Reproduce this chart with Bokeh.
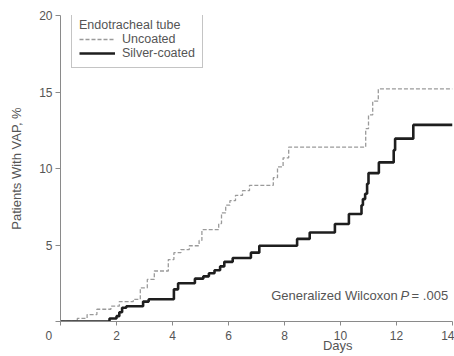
import math
from bokeh.plotting import figure
from bokeh.models import Range1d, Label, Legend, LegendItem, FixedTicker
from bokeh.embed import file_html
from bokeh.resources import INLINE

# Data: step curves, value changes at each time (mode="after")
uncoated_days = [0, 0.6, 0.95, 1.3, 1.8, 2.1, 2.6, 2.85, 3.1, 3.35, 3.85, 4.05, 4.3, 4.6,
                 4.95, 5.05, 5.65, 5.75, 5.9, 6.05, 6.25, 6.5, 6.75, 7.6, 7.75, 7.95, 8.15,
                 10.9, 11.0, 11.15, 11.35, 14]
uncoated_pct = [0, 0.2, 0.45, 0.8, 1.0, 1.3, 1.45, 2.2, 2.75, 3.3, 4.05, 4.5, 4.7, 4.95,
                5.3, 6.0, 6.4, 7.1, 7.6, 7.9, 8.25, 8.55, 8.9, 9.4, 10.1, 10.7, 11.4,
                12.6, 13.5, 14.4, 15.2, 15.2]

silver_days = [0, 1.75, 2.0, 2.1, 2.2, 2.35, 2.95, 3.15, 4.05, 4.2, 4.8, 5.1, 5.3, 5.5,
               5.7, 5.85, 6.15, 6.8, 7.1, 8.45, 8.9, 9.8, 10.3, 10.75, 10.8, 10.88, 10.95,
               11.0, 11.37, 11.9, 11.95, 12.6, 14]
silver_pct = [0, 0.2, 0.35, 0.6, 0.9, 1.0, 1.3, 1.45, 2.1, 2.5, 2.8, 2.95, 3.15, 3.35,
              3.6, 3.9, 4.15, 4.5, 4.95, 5.4, 5.82, 6.37, 7.03, 7.6, 8.0, 8.35, 9.0,
              9.7, 10.4, 11.2, 11.95, 12.85, 12.85]

x_ticks = [0, 2, 4, 6, 8, 10, 12, 14]
y_ticks = [0, 5, 10, 15, 20]

FONT = "Liberation Sans"
TXT = "#555555"
AX = "#8a8a8a"
NB = "\u00a0"

p = figure(width=454, height=356, output_backend="svg", toolbar_location=None,
           x_range=Range1d(0, 14), y_range=Range1d(0, 20),
           min_border_left=60, min_border_right=2, min_border_top=15, min_border_bottom=35)
p.outline_line_color = None
p.xgrid.visible = False
p.ygrid.visible = False
p.background_fill_color = "white"

r_unc = p.step(uncoated_days, uncoated_pct, mode="after", line_color="#9a9a9a",
               line_width=1.3, line_dash="4 2")
r_sil = p.step(silver_days, silver_pct, mode="after", line_color="#1e1e1e",
               line_width=2.6)

for ax in (p.xaxis[0], p.yaxis[0]):
    ax.axis_line_color = AX
    ax.major_tick_line_color = AX
    ax.minor_tick_line_color = None
    ax.major_tick_in = 0
    ax.major_label_text_font = FONT
    ax.major_label_text_font_size = "12px"
    ax.major_label_text_color = TXT
    ax.axis_label_text_font = FONT
    ax.axis_label_text_font_size = "13px"
    ax.axis_label_text_font_style = "normal"
    ax.axis_label_text_color = TXT

p.xaxis.ticker = FixedTicker(ticks=x_ticks)
p.yaxis.ticker = FixedTicker(ticks=y_ticks)
# shared origin "0" drawn slightly left of the corner
p.xaxis.major_label_overrides = {0: "0" + NB * 7}
p.yaxis.major_label_overrides = {0: ""}
p.xaxis.major_tick_out = 4
p.yaxis.major_tick_out = 5
p.xaxis.major_label_standoff = 3
p.yaxis.major_label_standoff = 3

p.yaxis.axis_label = "Patients With VAP, %"
p.yaxis.axis_label_standoff = 12
# "Days" sits right of centre in the reference
p.xaxis.axis_label = NB * 45 + "Days"
p.xaxis.axis_label_standoff = -8

# Annotation
p.add_layout(Label(x=12.04, y=1.68, text="Generalized Wilcoxon", text_align="right",
                   text_baseline="middle", text_font=FONT, text_font_size="13px",
                   text_color=TXT))
p.add_layout(Label(x=12.14, y=1.68, text="P", text_align="left", text_font_style="italic",
                   text_baseline="middle", text_font=FONT, text_font_size="13px",
                   text_color=TXT))
p.add_layout(Label(x=12.54, y=1.68, text="= .005", text_align="left",
                   text_baseline="middle", text_font=FONT, text_font_size="13px",
                   text_color=TXT))

legend = Legend(items=[LegendItem(label="Uncoated", renderers=[r_unc]),
                       LegendItem(label="Silver-coated", renderers=[r_sil])],
                location=(11, 253), title="Endotracheal tube")
legend.title_text_font = FONT
legend.title_text_font_size = "12.5px"
legend.title_text_font_style = "normal"
legend.title_text_color = TXT
legend.title_standoff = 0
legend.label_text_font = FONT
legend.label_text_font_size = "12.5px"
legend.label_text_color = TXT
legend.label_height = 12
legend.glyph_height = 12
legend.glyph_width = 36
legend.label_standoff = 7
legend.spacing = 0
legend.padding = 7
legend.margin = 0
legend.border_line_color = AX
legend.border_line_width = 1
legend.background_fill_color = "white"
legend.background_fill_alpha = 1
p.add_layout(legend)

open("out.html", "w").write(file_html(p, INLINE))
